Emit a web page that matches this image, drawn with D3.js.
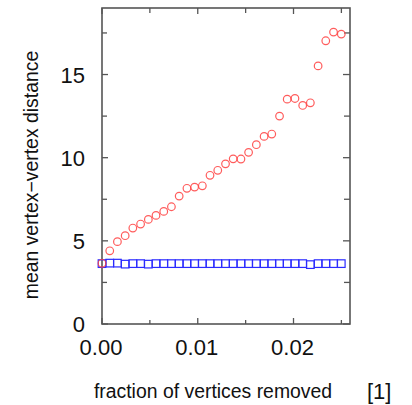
<!DOCTYPE html>
<html>
<head>
<meta charset="utf-8">
<script src="https://cdn.jsdelivr.net/npm/d3@7"></script>
<style>
  body { margin: 0; background: #fff; }
  text { font-family: "Liberation Sans", Arial, sans-serif; fill: #111; }
</style>
</head>
<body>
<div id="chart"></div>
<script>
// fraction of vertices removed
var fractions = [0, 0.00081, 0.00161, 0.00242, 0.00322, 0.00403, 0.00484, 0.00564,
    0.00645, 0.00725, 0.00806, 0.00887, 0.00967, 0.01048, 0.01128, 0.01209,
    0.0129, 0.0137, 0.01451, 0.01531, 0.01612, 0.01693, 0.01773, 0.01854,
    0.01934, 0.02015, 0.02096, 0.02176, 0.02257, 0.02337, 0.02418, 0.02499];
// red circles (targeted removal)
var redDist = [3.65, 4.40, 4.95, 5.31, 5.77, 6.01, 6.29, 6.53, 6.77, 7.05, 7.69,
    8.16, 8.23, 8.31, 8.94, 9.24, 9.63, 9.93, 9.92, 10.32, 10.78, 11.28, 11.42,
    12.50, 13.52, 13.56, 13.14, 13.30, 15.52, 17.03, 17.55, 17.43];
// blue squares (random removal)
var blueDist = [3.63, 3.66, 3.66, 3.60, 3.63, 3.63, 3.60, 3.63, 3.63, 3.63, 3.63,
    3.63, 3.63, 3.63, 3.63, 3.63, 3.63, 3.63, 3.63, 3.63, 3.63, 3.63, 3.63,
    3.63, 3.63, 3.63, 3.63, 3.57, 3.63, 3.63, 3.63, 3.63];
var xMajor = [0, 0.01, 0.02];
var xMinor = [0.005, 0.015, 0.025];
var yMajor = [0, 5, 10, 15];
var yMinor = [2.5, 7.5, 12.5, 17.5];

function init() {
    var w = 412, h = 405;
    var pLeft = 102, pRight = 350, pTop = 8, pBottom = 324;

    var svg = d3.select("#chart").append("svg")
        .attr("width", w)
        .attr("height", h);

    var x = d3.scaleLinear().domain([0, 0.0259]).range([pLeft, pRight]);
    var y = d3.scaleLinear().domain([0, 19]).range([pBottom, pTop]);

    var frame = "#555";

    // ticks, all pointing inward
    function tick(g, x1, y1, x2, y2) {
        g.append("line")
            .attr("x1", x1).attr("y1", y1).attr("x2", x2).attr("y2", y2)
            .attr("stroke", frame).attr("stroke-width", 1.3);
    }
    var ticks = svg.append("g");
    xMajor.forEach(function(v) {
        tick(ticks, x(v), pBottom, x(v), pBottom - 6);
        tick(ticks, x(v), pTop, x(v), pTop + 6);
    });
    xMinor.forEach(function(v) {
        tick(ticks, x(v), pBottom, x(v), pBottom - 4);
        tick(ticks, x(v), pTop, x(v), pTop + 5);
    });
    yMajor.forEach(function(v) {
        tick(ticks, pLeft, y(v), pLeft + 6, y(v));
        tick(ticks, pRight, y(v), pRight - 7, y(v));
    });
    yMinor.forEach(function(v) {
        tick(ticks, pLeft, y(v), pLeft + 5, y(v));
        tick(ticks, pRight, y(v), pRight - 6, y(v));
    });

    // frame
    svg.append("rect")
        .attr("x", pLeft).attr("y", pTop)
        .attr("width", pRight - pLeft).attr("height", pBottom - pTop)
        .attr("fill", "none")
        .attr("stroke", frame)
        .attr("stroke-width", 1.6);

    // tick labels
    svg.selectAll(".ylab")
        .data(yMajor)
        .enter()
        .append("text")
        .attr("class", "ylab")
        .attr("x", 85)
        .attr("y", function(d) { return y(d) + 8; })
        .attr("text-anchor", "end")
        .attr("font-size", 22)
        .text(function(d) { return d; });

    svg.selectAll(".xlab")
        .data(xMajor)
        .enter()
        .append("text")
        .attr("class", "xlab")
        .attr("x", function(d) { return x(d) - 1; })
        .attr("y", 355)
        .attr("text-anchor", "middle")
        .attr("font-size", 22)
        .text(function(d) { return d3.format(".2f")(d); });

    // axis titles
    svg.append("text")
        .attr("x", 213)
        .attr("y", 398)
        .attr("text-anchor", "middle")
        .attr("font-size", 19.4)
        .text("fraction of vertices removed");

    svg.append("text")
        .attr("x", 367)
        .attr("y", 399)
        .attr("font-size", 22)
        .text("[1]");

    svg.append("text")
        .attr("transform", "translate(38,175) rotate(-90)")
        .attr("text-anchor", "middle")
        .attr("font-size", 19.4)
        .text("mean vertex\u2212vertex distance");

    // blue squares
    var s = 7.6;
    svg.selectAll(".sq")
        .data(blueDist)
        .enter()
        .append("rect")
        .attr("class", "sq")
        .attr("x", function(d, i) { return x(fractions[i]) - s / 2; })
        .attr("y", function(d) { return y(d) - s / 2; })
        .attr("width", s)
        .attr("height", s)
        .attr("fill", "none")
        .attr("stroke", "#2b2bff")
        .attr("stroke-width", 1.2);

    // red circles
    svg.selectAll(".ci")
        .data(redDist)
        .enter()
        .append("circle")
        .attr("class", "ci")
        .attr("cx", function(d, i) { return x(fractions[i]); })
        .attr("cy", function(d) { return y(d); })
        .attr("r", 3.8)
        .attr("fill", "none")
        .attr("stroke", "#ff4040")
        .attr("stroke-width", 1.2)
        .attr("stroke-opacity", 0.85);
}

window.onload = init;
</script>
</body>
</html>
